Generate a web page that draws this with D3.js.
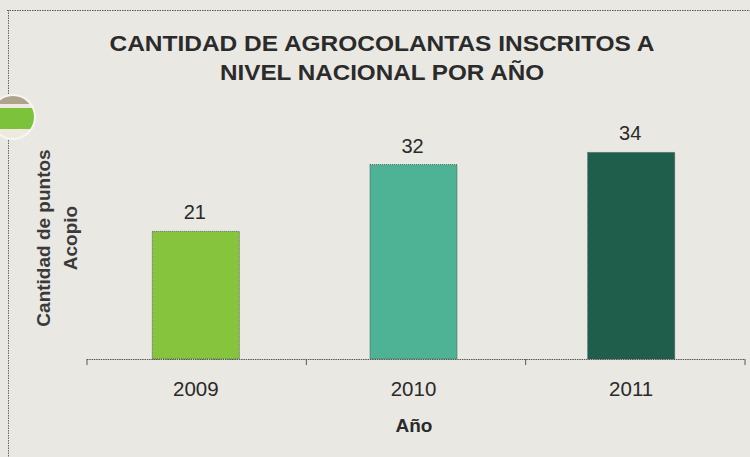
<!DOCTYPE html>
<html><head><meta charset="utf-8">
<script src="https://cdn.jsdelivr.net/npm/d3@7"></script>
<style>body{margin:0;background:#e9e7e1;}svg{display:block;}</style>
</head><body><svg id="c" width="750" height="457"></svg>
<script>
const categories = ["2009", "2010", "2011"];
const values = [21, 32, 34];
const colors = ["#86c43e", "#4db394", "#1f5e4b"];
const titleLines = ["CANTIDAD DE AGROCOLANTAS INSCRITOS A", "NIVEL NACIONAL POR AÑO"];
const yTitleLines = ["Cantidad de puntos", "Acopio"];
const xTitle = "Año";

const svg = d3.select("#c");
const W = 750, H = 457;
const FONT = "Liberation Sans, Arial, sans-serif";
svg.append("rect").attr("width", W).attr("height", H).attr("fill", "#e9e8e3");

// frame (dotted)
svg.append("line").attr("x1", 7).attr("x2", 750).attr("y1", 10.5).attr("y2", 10.5)
  .attr("stroke", "#555").attr("stroke-width", 1).attr("stroke-dasharray", "1.5,1");
svg.append("line").attr("x1", 8.5).attr("x2", 8.5).attr("y1", 10).attr("y2", 457)
  .attr("stroke", "#666").attr("stroke-width", 1).attr("stroke-dasharray", "1.5,1");

// punched hole decoration
const hole = svg.append("g");
hole.append("circle").attr("cx", 13).attr("cy", 117).attr("r", 23).attr("fill", "#f7f6f2");
hole.append("clipPath").attr("id", "hc").append("circle").attr("cx", 13).attr("cy", 117).attr("r", 21);
const hg = hole.append("g").attr("clip-path", "url(#hc)");
hg.append("rect").attr("x", -10).attr("y", 94).attr("width", 45).attr("height", 50).attr("fill", "#eeeae0");
hg.append("rect").attr("x", -10).attr("y", 96).attr("width", 45).attr("height", 8).attr("fill", "#7a6a4a").attr("opacity", 0.55);
hg.append("rect").attr("x", -10).attr("y", 108).attr("width", 45).attr("height", 21).attr("fill", "#7cc23a");

const x = d3.scaleBand().domain(categories).range([87, 740]).paddingInner(0.6).paddingOuter(0.3);
const y = d3.scaleLinear().domain([0, 40]).range([359, 116]);

// bars
svg.selectAll("rect.bar").data(values).enter().append("rect")
  .attr("class", "bar")
  .attr("x", (d, i) => x(categories[i]))
  .attr("width", x.bandwidth())
  .attr("y", d => y(d))
  .attr("height", d => y(0) - y(d))
  .attr("fill", (d, i) => colors[i])
  .attr("stroke", "#3a4a50").attr("stroke-width", 0.8).attr("stroke-dasharray", "1,1");

// value labels
svg.selectAll("text.val").data(values).enter().append("text")
  .attr("x", (d, i) => x(categories[i]) + x.bandwidth() / 2 - 1)
  .attr("y", d => y(d) - 12)
  .attr("text-anchor", "middle")
  .attr("font-family", FONT)
  .attr("font-size", 20).attr("fill", "#2a2a2a")
  .text(d => d);

// x axis
const xAxis = d3.axisBottom(x).tickSize(0).tickPadding(22);
const ax = svg.append("g").attr("transform", "translate(0,359)").call(xAxis);
ax.select(".domain").remove();
svg.append("line").attr("x1", 87).attr("x2", 745).attr("y1", 359.5).attr("y2", 359.5)
  .attr("stroke", "#555").attr("stroke-width", 1).attr("stroke-dasharray", "1.5,0.8");
ax.selectAll("text").attr("font-family", FONT)
  .attr("font-size", 20.5).attr("fill", "#2a2a2a");
const [r0, r1] = [87, 745];
const bounds = d3.range(categories.length + 1).map(i => r0 + i * ((r1 - r0) / categories.length));
svg.selectAll("line.bt").data(bounds).enter().append("line")
  .attr("x1", d => d).attr("x2", d => d).attr("y1", 359).attr("y2", 365)
  .attr("stroke", "#555").attr("stroke-width", 1);

// titles
const tw = [545, 324];
titleLines.forEach((l, i) => svg.append("text").attr("x", 382).attr("y", 51 + i * 29)
  .attr("text-anchor", "middle")
  .attr("font-family", FONT).attr("font-weight", "bold")
  .attr("font-size", 22).attr("fill", "#2b2b2b")
  .attr("textLength", tw[i]).attr("lengthAdjust", "spacingAndGlyphs")
  .text(l));

svg.append("text").attr("x", 414).attr("y", 432).attr("text-anchor", "middle")
  .attr("font-family", FONT).attr("font-weight", "bold")
  .attr("font-size", 19).attr("fill", "#2b2b2b").text(xTitle);

yTitleLines.forEach((l, i) => svg.append("text")
  .attr("transform", `translate(${50 + i * 27},238) rotate(-90)`)
  .attr("text-anchor", "middle")
  .attr("font-family", FONT).attr("font-weight", "bold")
  .attr("font-size", 19).attr("fill", "#3a3a3a").text(l));
</script></body></html>
